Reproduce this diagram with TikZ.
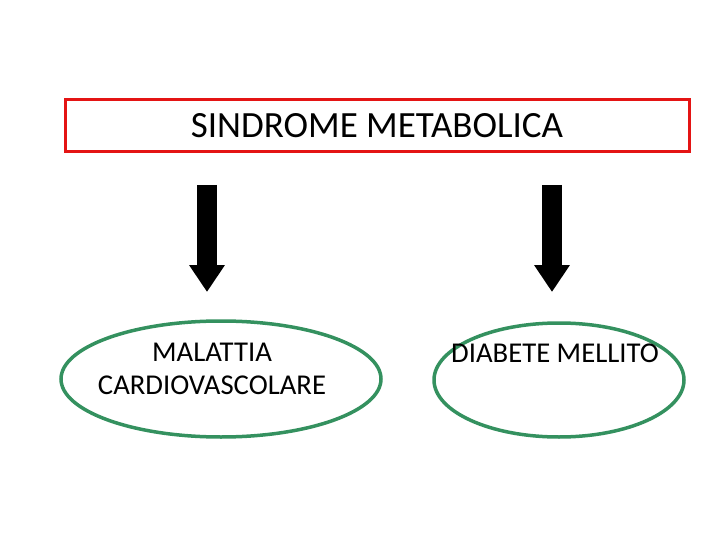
\documentclass[tikz,border=0pt]{standalone}
\usepackage{fontspec}
\setmainfont{Carlito}
\usepackage{xcolor}
\usetikzlibrary{shapes.geometric,arrows.meta}

\definecolor{boxred}{RGB}{228,20,20}
\definecolor{ovalgreen}{RGB}{52,145,95}

\tikzset{
    titlebox/.style={draw=boxred, line width=3pt, minimum width=624pt, minimum height=52pt, inner sep=0pt},
    oval/.style={ellipse, draw=ovalgreen, line width=3.5pt, inner sep=0pt},
    blockarrow/.style={line width=20pt, -{Triangle[width=34pt,length=27pt]}},
    label/.style={font=\fontsize{28.7}{33}\selectfont, align=center}
}

\begin{document}
\begin{tikzpicture}[x=1pt,y=-1pt]
        \useasboundingbox (0,0) rectangle (720,540);

        \node[titlebox, font=\fontsize{37}{40}\selectfont] (sindrome) at (377,126) {SINDROME METABOLICA};

        \node[oval, minimum width=320pt, minimum height=116pt] (cardio) at (221,379) {};
        \node[oval, minimum width=250pt, minimum height=114pt] (diabete) at (559,380) {};

        \node[label] (cardiotext) at (212,369) {MALATTIA\\CARDIOVASCOLARE};
        \node[label] (diabetetext) at (555,353) {DIABETE MELLITO};

        \coordinate (la1) at (207,185);
        \coordinate (la2) at (207,292);
        \coordinate (ra1) at (552,185);
        \coordinate (ra2) at (552,292);

        \draw[blockarrow] (la1) -- (la2);
        \draw[blockarrow] (ra1) -- (ra2);
    \end{tikzpicture}
\end{document}
